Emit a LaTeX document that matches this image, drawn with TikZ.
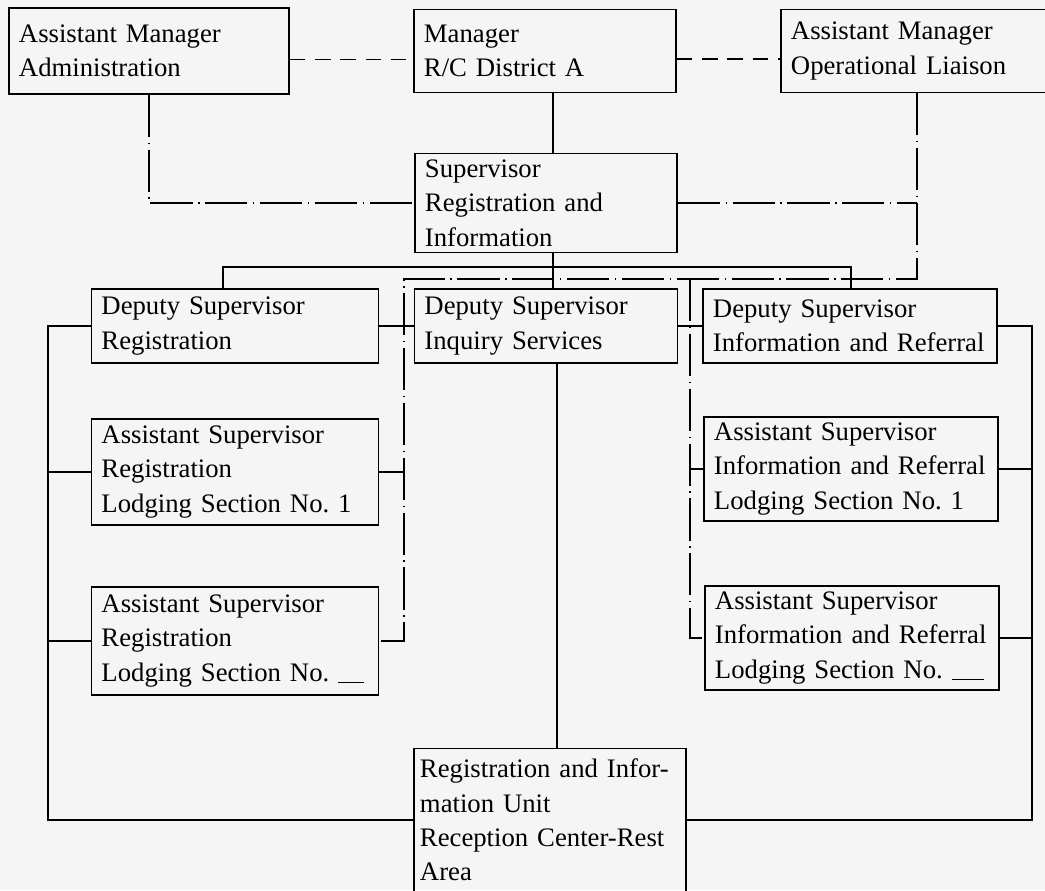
\documentclass[tikz,border=0pt]{standalone}
\usepackage{fontspec}
\setmainfont{Liberation Serif}

\begin{document}
\begin{tikzpicture}[
            x = 0.025cm, y = -0.025cm,
            font = \fontsize{19}{24.5}\selectfont,
            post/.style 2 args = {
                draw, line width = 1pt,
                align = left,
                inner xsep = 0.25cm, inner ysep = 2pt,
                text width = #1,
                minimum height = #2,
            },
            command/.style = {line width = 0.9pt},
            staff/.style = {
                line width = 0.9pt,
                dash pattern = on 30pt off 4pt on 1pt off 4pt
            },
            peer/.style = {
                line width = 0.9pt,
                dash pattern = on 11pt off 7pt
            },
        ]

        \useasboundingbox (0,0) rectangle (1045,890);
        \fill[black!4] (0,0) rectangle (1045,890);

        % Posten
        \node[post = {6.5cm}{2.15cm}] (admin) at (149,51) {Assistant Manager\\Administration};
        \node[post = {6.05cm}{2.075cm}] (manager) at (545,51) {Manager\\R/C District A};
        \node[post = {6.3cm}{2.075cm}] (liaison) at (917,51) {Assistant Manager\\Operational Liaison};
        \node[post = {6.05cm}{2.475cm}] (supervisor) at (546,203) {Supervisor\\Registration and\\Information};

        \node[post = {6.675cm}{1.85cm}] (dep_reg) at (235,326) {Deputy Supervisor\\Registration};
        \node[post = {6.075cm}{1.85cm}] (dep_inq) at (546,326) {Deputy Supervisor\\Inquiry Services};
        \node[post = {6.85cm}{1.85cm}] (dep_inf) at (850,326) {Deputy Supervisor\\Information and Referral};

        \node[post = {6.675cm}{2.65cm}] (ast_reg_1) at (235,472) {Assistant Supervisor\\Registration\\Lodging Section No.~1};
        \node[post = {6.675cm}{2.7cm}] (ast_reg_n) at (235,641) {Assistant Supervisor\\Registration\\Lodging Section No.~\rule[-1pt]{0.65cm}{0.6pt}};
        \node[post = {6.85cm}{2.6cm}] (ast_inf_1) at (851,469) {Assistant Supervisor\\Information and Referral\\Lodging Section No.~1};
        \node[post = {6.85cm}{2.6cm}] (ast_inf_n) at (852,638) {Assistant Supervisor\\Information and Referral\\Lodging Section No.~\rule[-1pt]{0.8cm}{0.6pt}};

        \node[post = {6.5cm}{3.575cm}, inner xsep = 0.15cm] (unit) at (550,820) {Registration and Infor-\\mation Unit\\Reception Center-Rest\\Area};

        % Knooppunten
        \coordinate (bus) at (553,267);
        \coordinate (bus_l) at (223,267);
        \coordinate (bus_r) at (851,267);
        \coordinate (trunk) at (557,700);
        \coordinate (side_l) at (48,0);
        \coordinate (side_r) at (1032,0);
        \coordinate (staff_l) at (404,279);
        \coordinate (staff_r) at (690,279);

        % Bevel
        \path[command]
            (manager.south -| bus) edge (supervisor.north -| bus)
            (supervisor.south -| bus) edge (dep_inq.north -| bus)
            (dep_inq.south -| trunk) edge (unit.north -| trunk)
            (ast_reg_1.west) edge (ast_reg_1.west -| side_l)
            (ast_reg_n.west) edge (ast_reg_n.west -| side_l)
            (ast_inf_1.east) edge (ast_inf_1.east -| side_r)
            (ast_inf_n.east) edge (ast_inf_n.east -| side_r);

        \draw[command] (bus_l |- dep_reg.north) -- (bus_l) -- (bus_r) -- (bus_r |- dep_inf.north);
        \draw[command] (dep_reg.west) -- (dep_reg.west -| side_l) |- (unit.west);
        \draw[command] (dep_inf.east) -- (dep_inf.east -| side_r) |- (unit.east);

        % Staf
        \draw[staff] (admin.south) |- (supervisor.west);
        \draw[staff] (liaison.south) |- (staff_l) |- (ast_reg_n.east);
        \draw[staff] (staff_r) |- (ast_inf_n.west);

        \path[staff]
            (supervisor.east) edge (supervisor.east -| liaison.south)
            (dep_reg.east) edge (dep_reg.east -| staff_l)
            (ast_reg_1.east) edge (ast_reg_1.east -| staff_l)
            (dep_inq.west) edge (dep_inq.west -| staff_l)
            (dep_inq.east) edge (dep_inq.east -| staff_r)
            (dep_inf.west) edge (dep_inf.west -| staff_r)
            (ast_inf_1.west) edge (ast_inf_1.west -| staff_r);

        \path[peer]
            ([yshift = -2.2mm]admin.east) edge ([yshift = -2.2mm]manager.west)
            ([yshift = -2mm]manager.east) edge ([yshift = -2mm]liaison.west);
    \end{tikzpicture}
\end{document}
